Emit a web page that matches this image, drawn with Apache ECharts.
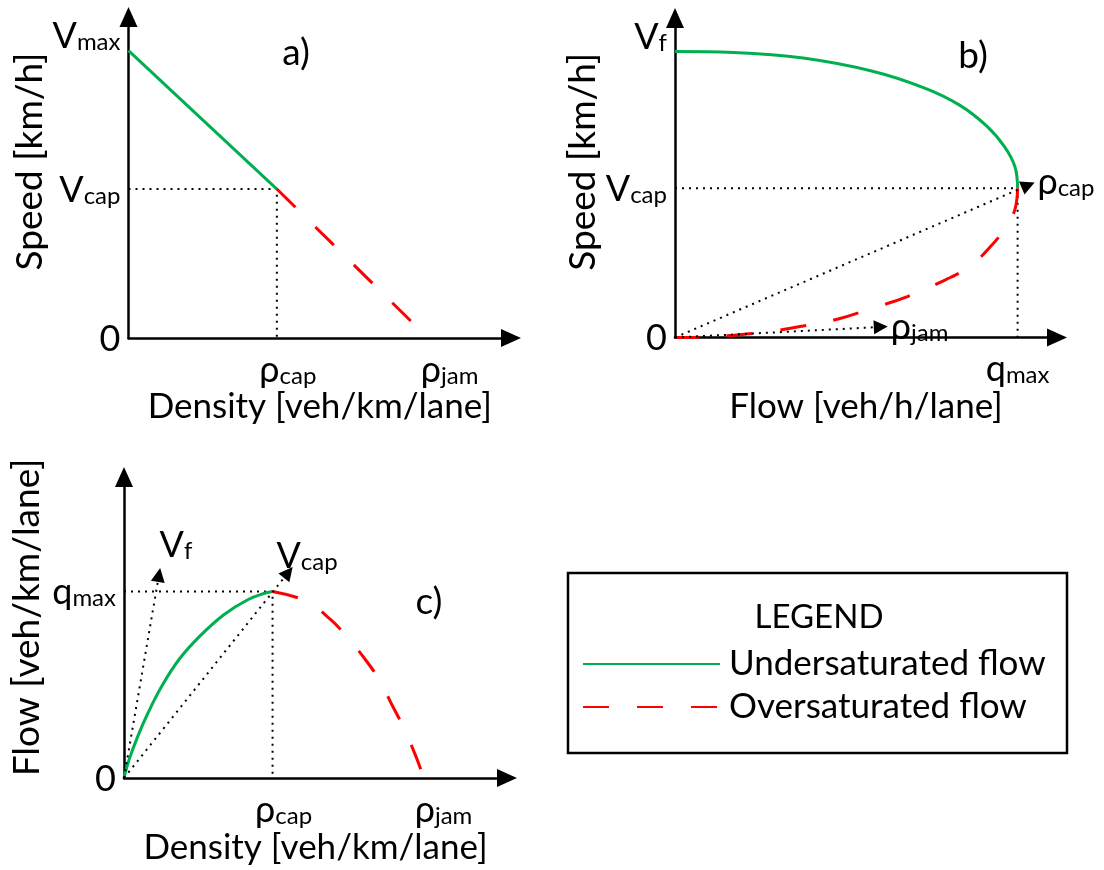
<!DOCTYPE html>
<html><head><meta charset="utf-8">
<script src="https://cdn.jsdelivr.net/npm/echarts@6/dist/echarts.min.js"></script>
<style>html,body{margin:0;padding:0;background:#fff}#c{width:1104px;height:870px}</style>
</head><body><div id="c"></div>
<script>
// ---- Data (values in % of axis length, origin = 0, arrow tip = 100) ----
// Panel a) speed vs density
const aUnder = [[0, 86.8], [37.8, 45.0]];
const aOver = [[37.8, 45.0], [72.3, 4.7]];
const aGuide = [[0, 45.0], [37.8, 45.0], [37.8, 0]];
const aXTicks = [37.8, 79.0];
const aXLabels = ['ρ_cap', 'ρ_jam'];
const aYTicks = [0, 45.0, 86.8];
const aYLabels = ['0', 'V_cap', 'V_max'];

// Panel b) speed vs flow
const bUnder = [[0, 86.8], [15.0, 86.5], [32.7, 84.8], [50.4, 80.8], [63.7, 75.7], [72.5, 70.6], [79.6, 64.1], [84.0, 58.0], [86.7, 51.9], [87.4, 45.3]];
const bOver = [[87.4, 45.3], [86.7, 38.8], [84.5, 33.7], [80.5, 27.6], [75.2, 21.6], [69.0, 17.5], [59.3, 12.4], [50.4, 8.9], [41.6, 5.6], [32.7, 3.5], [23.9, 1.8], [15.0, 0.7], [6.2, 0.1], [0, 0]];
const bGuide = [[0, 45.3], [87.4, 45.3], [87.4, 0]];
const bRayEnds = [[90.1, 46.2], [52.5, 3.2]];
const bRayLabels = ['ρ_cap', 'ρ_jam'];
const bXTicks = [87.4];
const bXLabels = ['q_max'];
const bYTicks = [0, 45.3, 86.8];
const bYLabels = ['0', 'V_cap', 'V_f'];

// Panel c) flow vs density
const cUnder = [[0, 0], [1.3, 5.9], [3.5, 13.4], [6.1, 20.9], [9.6, 29.5], [14.0, 38.1], [19.3, 45.6], [25.4, 52.5], [31.6, 57.4], [36.0, 59.5], [37.8, 60.0]];
const cOver = [[37.8, 60.0], [46.5, 56.8], [52.6, 50.9], [56.6, 45.6], [61.4, 38.1], [64.9, 31.6], [68.4, 23.0], [71.0, 16.6], [74.1, 7.5], [76.3, 0]];
const cGuide = [[0, 60.0], [37.8, 60.0], [37.8, 0]];
const cRayEnds = [[8.9, 65.3], [41.8, 66.1]];
const cRayLabels = ['V_f', 'V_cap'];
const cXTicks = [37.8, 78.5];
const cXLabels = ['ρ_cap', 'ρ_jam'];
const cYTicks = [0, 60.0];
const cYLabels = ['0', 'q_max'];

const panelTitles = ['a)', 'b)', 'c)'];
const xNames = ['Density [veh/km/lane]', 'Flow [veh/h/lane]', 'Density [veh/km/lane]'];
const yNames = ['Speed [km/h]', 'Speed [km/h]', 'Flow [veh/km/lane]'];
const seriesNames = ['Undersaturated flow', 'Oversaturated flow'];

// ---- Layout ----
const FONT = 'Lato, "Open Sans", "DejaVu Sans", sans-serif';
const GREEN = '#00B050', RED = '#FF0000';
const ARW = 10; // half arrow length
const panels = [
  {ox: 128.5, oy: 338, tx: 521, ty: 7, xGap: 51, yGap: 74, yShift: 32, raiseTop: true},
  {ox: 675, oy: 337.5, tx: 1067, ty: 8, xGap: 52, yGap: 62, yShift: 32, raiseTop: true},
  {ox: 124, oy: 778, tx: 517, ty: 467, xGap: 52, yGap: 78, yShift: 20, raiseTop: false}
];
const base = {fontFamily: FONT, color: '#000', verticalAlign: 'bottom'};
const rich = {
  m: Object.assign({fontSize: 36, lineHeight: 38}, base),
  s: Object.assign({fontSize: 24, lineHeight: 18}, base),
  r: Object.assign({fontSize: 36, lineHeight: 38, padding: [0, 0, 0, 22]}, base),
  mu: Object.assign({fontSize: 36, lineHeight: 38, padding: [0, 0, 15, 0]}, base),
  su: Object.assign({fontSize: 24, lineHeight: 18, padding: [0, 0, 15, 0]}, base)
};
function fmt(str, raised) {
  const p = str.split('_');
  const mk = raised ? 'mu' : (p[0] === 'ρ' ? 'r' : 'm');
  const sk = raised ? 'su' : 's';
  return '{' + mk + '|' + p[0] + '}' + (p[1] ? '{' + sk + '|' + p[1] + '}' : '');
}
function labelFor(ticks, labels, raiseTop) {
  return function (v) {
    let best = 0;
    for (let i = 0; i < ticks.length; i++) if (Math.abs(ticks[i] - v) < Math.abs(ticks[best] - v)) best = i;
    return fmt(labels[best], raiseTop && best === ticks.length - 1);
  };
}

const grids = panels.map(p => ({
  left: p.ox, top: p.ty + ARW, width: p.tx - ARW - p.ox, height: p.oy - p.ty - ARW
}));
const axisLine = {
  symbol: ['none', 'triangle'], symbolSize: [18, 20],
  lineStyle: {color: '#000', width: 2.5}
};
const xTicksAll = [aXTicks, bXTicks, cXTicks], xLabelsAll = [aXLabels, bXLabels, cXLabels];
const yTicksAll = [aYTicks, bYTicks, cYTicks], yLabelsAll = [aYLabels, bYLabels, cYLabels];

const xAxes = panels.map((p, i) => ({
  type: 'value', gridIndex: i, min: 0,
  max: (p.tx - ARW - p.ox) / (p.tx - p.ox) * 100,
  splitLine: {show: false}, axisTick: {show: false}, axisLine,
  axisLabel: {customValues: xTicksAll[i], formatter: labelFor(xTicksAll[i], xLabelsAll[i], false), rich, margin: 12},
  name: xNames[i], nameLocation: 'middle', nameGap: p.xGap,
  nameTextStyle: {fontSize: 35, fontFamily: FONT, color: '#000'}
}));
const yAxes = panels.map((p, i) => ({
  type: 'value', gridIndex: i, min: 0,
  max: (p.oy - p.ty - ARW) / (p.oy - p.ty) * 100,
  splitLine: {show: false}, axisTick: {show: false}, axisLine,
  axisLabel: {customValues: yTicksAll[i], formatter: labelFor(yTicksAll[i], yLabelsAll[i], p.raiseTop), rich, margin: 8},
  name: yNames[i], nameLocation: 'middle', nameGap: p.yGap,
  nameTextStyle: {fontSize: 37, fontFamily: FONT, color: '#000', padding: [0, 0, 0, p.yShift]}
}));

const dotted = {color: '#000', width: 2, type: [2, 5]};
function guide(i, data, rays, rayLabels, distances, paddings) {
  const s = {
    type: 'line', xAxisIndex: i, yAxisIndex: i, data, symbol: 'none', silent: true,
    lineStyle: dotted, z: 1
  };
  if (rays) {
    s.markLine = {
      silent: true, symbol: ['none', 'triangle'], symbolSize: 14,
      lineStyle: dotted,
      data: rays.map((e, k) => [
        {coord: [0, 0]},
        {coord: e, label: {show: true, position: 'end', formatter: fmt(rayLabels[k]).replace('{r|', '{m|'), rich,
          distance: distances[k], padding: paddings[k]}}
      ])
    };
  }
  return s;
}
function curve(i, data, k) {
  return {
    type: 'line', name: seriesNames[k], xAxisIndex: i, yAxisIndex: i, data,
    symbol: 'none', smooth: data.length > 2 ? 0.4 : false, z: 3,
    lineStyle: k === 0 ? {color: GREEN, width: 3} : {color: RED, width: 3, type: [26, 28]},
    itemStyle: {color: k === 0 ? GREEN : RED}
  };
}

const series = [
  guide(0, aGuide),
  curve(0, aUnder, 0), curve(0, aOver, 1),
  guide(1, bGuide, bRayEnds, bRayLabels, [10, 10], [0, 0, 0, 0]),
  curve(1, bUnder, 0), curve(1, bOver, 1),
  guide(2, cGuide, cRayEnds, cRayLabels, [12, 22], [[0, 0, 0, 30], [0, 0, 0, 10]]),
  curve(2, cUnder, 0), curve(2, cOver, 1)
];

const titleCenters = [[296, 35], [973, 38], [429, 584]];
const option = {
  animation: false,
  backgroundColor: '#fff',
  textStyle: {fontFamily: FONT},
  title: panelTitles.map((t, i) => ({
    text: t, left: titleCenters[i][0], top: titleCenters[i][1], textAlign: 'center', padding: 0,
    textStyle: {fontSize: 37, fontWeight: 'normal', fontFamily: FONT, color: '#000'}
  })).concat([{
    text: 'LEGEND', left: 819, top: 601, textAlign: 'center', padding: 0,
    textStyle: {fontSize: 33, fontWeight: 'normal', fontFamily: FONT, color: '#000'}
  }]),
  legend: {
    data: seriesNames, orient: 'vertical', left: 582, top: 646, padding: 0,
    itemWidth: 137, itemHeight: 14, itemGap: 7, selectedMode: false,
    itemStyle: {opacity: 0, color: 'rgba(0,0,0,0)', borderWidth: 0},
    textStyle: {fontSize: 35, lineHeight: 36, fontFamily: FONT, color: '#000', padding: [0, 0, 0, 4]}
  },
  graphic: [{
    type: 'rect', shape: {x: 568, y: 573, width: 499, height: 180},
    style: {fill: 'none', stroke: '#000', lineWidth: 2.5}, silent: true
  }],
  grid: grids, xAxis: xAxes, yAxis: yAxes, series
};
const chart = echarts.init(document.getElementById('c'), null, {renderer: 'canvas'});
chart.setOption(option);
</script></body></html>
